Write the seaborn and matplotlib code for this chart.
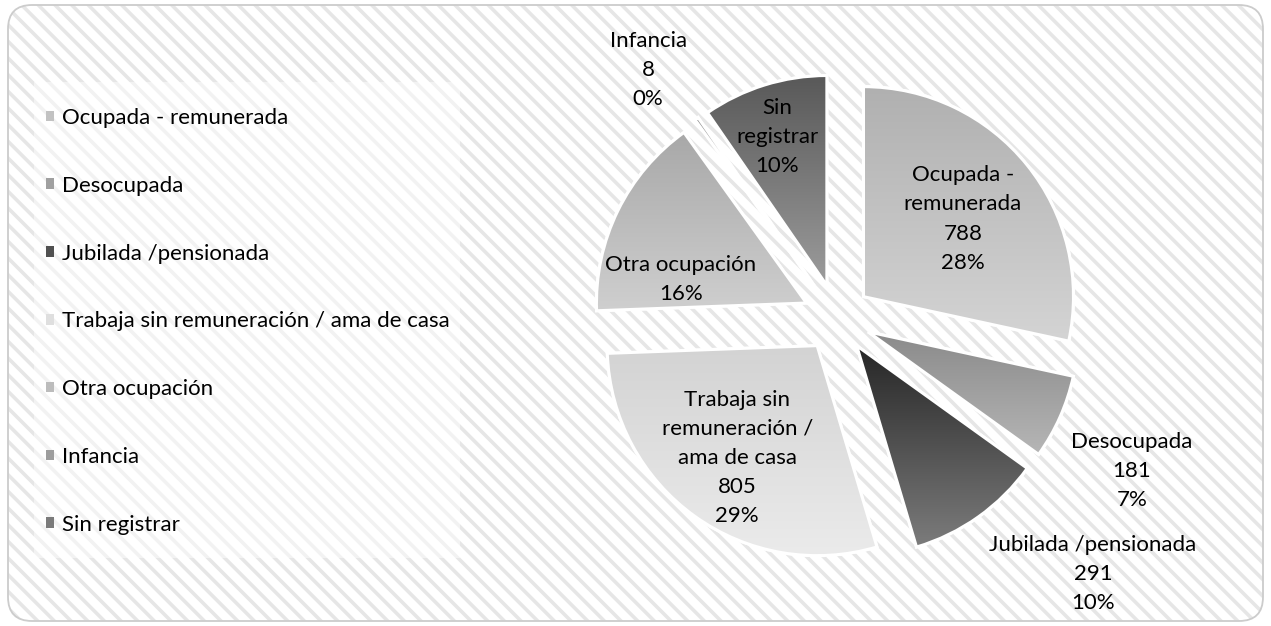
import numpy as np
import seaborn as sns
import matplotlib
matplotlib.use("Agg")
import matplotlib.pyplot as plt
from matplotlib.patches import FancyBboxPatch, Rectangle, Wedge
from matplotlib.colors import LinearSegmentedColormap, to_rgb
from matplotlib.transforms import IdentityTransform

# ---------------- data ----------------
categories = ["Ocupada - remunerada", "Desocupada", "Jubilada /pensionada",
              "Trabaja sin remuneración / ama de casa", "Otra ocupación",
              "Infancia", "Sin registrar"]
values = [788, 181, 291, 805, 435, 8, 267]
slice_labels = ["Ocupada -\nremunerada", "Desocupada", "Jubilada /pensionada",
                "Trabaja sin\nremuneración /\nama de casa", "Otra ocupación",
                "Infancia", "Sin\nregistrar"]
show_value = [True, True, True, True, False, True, False]

# ---------------- style ----------------
grad_top = ["#b0b0b0", "#8a8a8a", "#262626", "#d3d3d3", "#a8a8a8", "#8a8a8a", "#595959"]
grad_bottom = ["#d4d4d4", "#b6b6b6", "#7c7c7c", "#ebebeb", "#cfcfcf", "#b0b0b0", "#9c9c9c"]
label_r = [0.763, 1.582, 1.724, 0.819, 0.766, 1.485, 0.908]
label_dtheta = [-0.7, -3.4, 9.6, 0.2, 12.1, 2.1, 1.0]

W, H, DPI = 1271, 626, 100
R_PX = 210.0
CX, CY = 837.0, 626 - 318.0   # pie centre in pixels (from bottom)
FS = 16

sns.set_theme(style="white")
plt.rcParams["font.family"] = ["Lato", "DejaVu Sans"]
plt.rcParams["hatch.linewidth"] = 2.6

fig = plt.figure(figsize=(W / DPI, H / DPI), dpi=DPI, facecolor="white")

# hatched rounded background
bg = FancyBboxPatch((8, 5), 1255, 616, boxstyle="round,pad=0,rounding_size=24",
                    transform=IdentityTransform(), facecolor="white",
                    edgecolor="#e6e6e6", linewidth=0, hatch="\\\\", zorder=-3)
fig.add_artist(bg)
border = FancyBboxPatch((8, 5), 1255, 616, boxstyle="round,pad=0,rounding_size=24",
                        transform=IdentityTransform(), facecolor="none",
                        edgecolor="#cccccc", linewidth=1.3, zorder=-1)
fig.add_artist(border)
# legend box (semi-transparent white)
lbox = Rectangle((34, 626 - 558), 426, 476, transform=IdentityTransform(),
                 facecolor="white", edgecolor="none", alpha=0.5, zorder=-2)
fig.add_artist(lbox)

ax = fig.add_axes([0, 0, 1, 1])
ax.patch.set_alpha(0)

mid_colors = [tuple((np.array(to_rgb(a)) + np.array(to_rgb(b))) / 2)
              for a, b in zip(grad_top, grad_bottom)]

wedges, _ = ax.pie(values, explode=[0.162] * len(values), startangle=90,
                   counterclock=False, colors=mid_colors, radius=1,
                   wedgeprops=dict(edgecolor="white", linewidth=2.2))

grad = np.linspace(0, 1, 256).reshape(-1, 1)
for w, top, bot in zip(wedges, grad_top, grad_bottom):
    ext = w.get_path().get_extents()
    cmap = LinearSegmentedColormap.from_list("g", [top, bot])
    im = ax.imshow(grad, cmap=cmap, extent=[ext.x0, ext.x1, ext.y0, ext.y1],
                   origin="upper", aspect="auto", interpolation="bilinear",
                   zorder=w.get_zorder() + 0.1)
    im.set_clip_path(w)
    ax.add_patch(Wedge(w.center, w.r, w.theta1, w.theta2, facecolor="none",
                       edgecolor="white", linewidth=2.2, zorder=w.get_zorder() + 0.2))

total = sum(values)
for i, w in enumerate(wedges):
    mid = np.deg2rad((w.theta1 + w.theta2) / 2 + label_dtheta[i])
    x, y = label_r[i] * np.cos(mid), label_r[i] * np.sin(mid)
    pct = int(round(100 * values[i] / total))
    txt = slice_labels[i] + (f"\n{values[i]}" if show_value[i] else "") + f"\n{pct}%"
    ax.text(x, y, txt, ha="center", va="center", fontsize=FS, linespacing=1.57,
            color="black", zorder=10)

ax.set_aspect("auto")
ax.set_xlim(-CX / R_PX, (W - CX) / R_PX)
ax.set_ylim(-CY / R_PX, (H - CY) / R_PX)
ax.set_axis_off()

handles = [Rectangle((0, 0), 1, 1, facecolor=c, edgecolor="none") for c in mid_colors]
ax.legend(handles, categories, loc="upper left",
          bbox_to_anchor=(46 / W, 1 - 108 / H), bbox_transform=fig.transFigure,
          frameon=False, borderpad=0, borderaxespad=0, handlelength=0.36,
          handleheight=0.36, handletextpad=0.38, labelspacing=2.15, fontsize=FS,
          labelcolor="black")

fig.savefig("out.png", dpi=DPI, facecolor="white")
